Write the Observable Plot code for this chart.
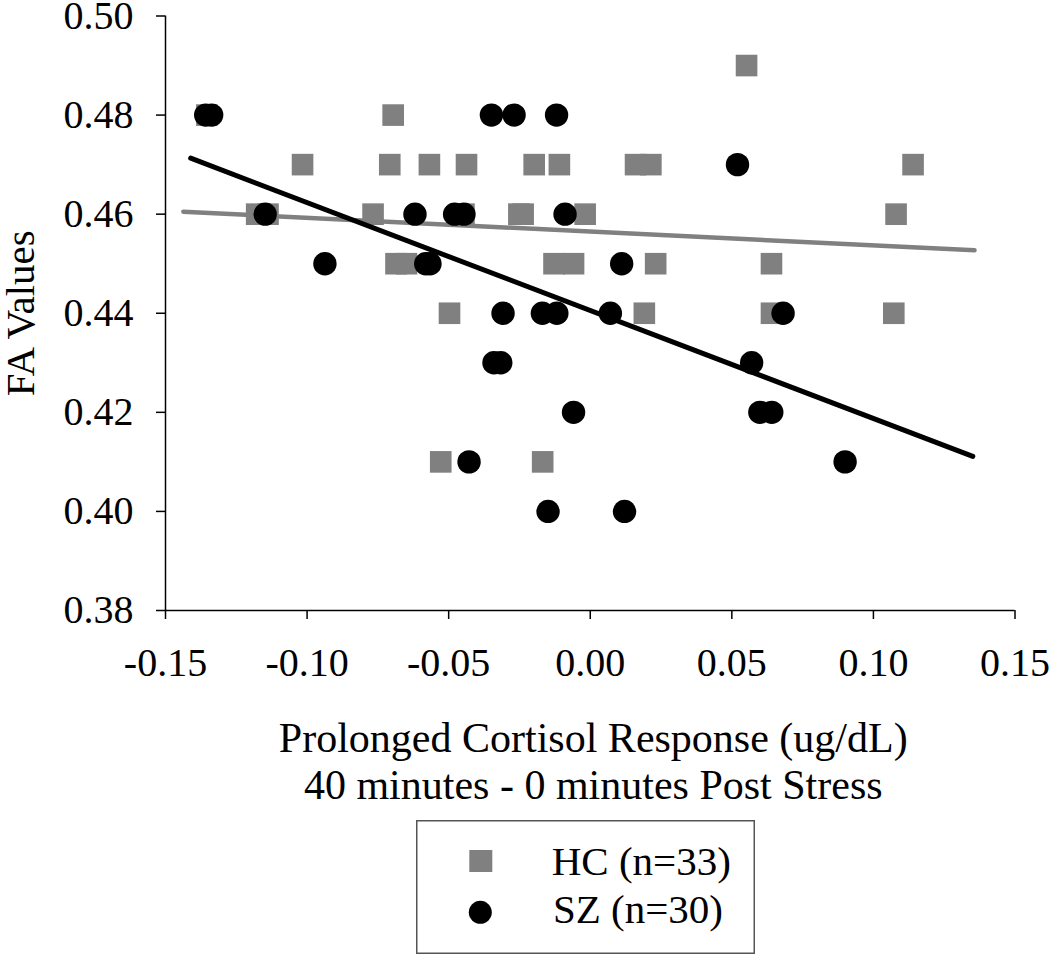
<!DOCTYPE html>
<html>
<head>
<meta charset="utf-8">
<script src="https://cdn.jsdelivr.net/npm/d3@7"></script>
<script src="https://cdn.jsdelivr.net/npm/@observablehq/plot@0.6"></script>
<style>
  html, body { margin: 0; padding: 0; background: white; }
  #legend { margin-left: 416px; width: 339px; height: 134px; }
</style>
</head>
<body>
<div id="chart"></div>
<div id="legend"></div>
<script>
// HC (healthy controls) – grey squares
const hcX = [-0.1354, -0.0696, 0.0552, -0.1016, -0.0708, -0.0568, -0.0437, -0.0198, -0.0109, 0.0160, 0.0214, 0.1140,
             -0.1178, -0.1138, -0.0767, -0.0446, -0.0252, -0.0237, -0.0018, 0.1080,
             -0.0686, -0.0649, -0.0128, -0.0059, 0.0231, 0.0640,
             -0.0497, 0.0191, 0.0640, 0.1072,
             -0.0528, -0.0168];
const hcY = [0.48, 0.48, 0.49, 0.47, 0.47, 0.47, 0.47, 0.47, 0.47, 0.47, 0.47, 0.47,
             0.46, 0.46, 0.46, 0.46, 0.46, 0.46, 0.46, 0.46,
             0.45, 0.45, 0.45, 0.45, 0.45, 0.45,
             0.44, 0.44, 0.44, 0.44,
             0.41, 0.41];
// SZ (schizophrenia) – black circles
const szX = [-0.1358, -0.1337, -0.0349, -0.0269, -0.0119, 0.0520,
             -0.1148, -0.0619, -0.0479, -0.0446, -0.0089,
             -0.0937, -0.0581, -0.0566, 0.0111,
             -0.0308, -0.0169, -0.0118, 0.0071, 0.0681,
             -0.0340, -0.0316, 0.0570,
             -0.0059, 0.0599, 0.0641,
             -0.0428, 0.0900,
             -0.0149, 0.0121];
const szY = [0.48, 0.48, 0.48, 0.48, 0.48, 0.47,
             0.46, 0.46, 0.46, 0.46, 0.46,
             0.45, 0.45, 0.45, 0.45,
             0.44, 0.44, 0.44, 0.44, 0.44,
             0.43, 0.43, 0.43,
             0.42, 0.42, 0.42,
             0.41, 0.41,
             0.40, 0.40];
// trend lines (endpoints)
const hcTrendX = [-0.1437, 0.1357];
const hcTrendY = [0.4605, 0.4527];
const szTrendX = [-0.1411, 0.1351];
const szTrendY = [0.4713, 0.4111];

const xTicks = [-0.15, -0.10, -0.05, 0, 0.05, 0.10, 0.15];
const yTicks = [0.38, 0.40, 0.42, 0.44, 0.46, 0.48, 0.50];
const xLabel = "Prolonged Cortisol Response (ug/dL)\n40 minutes - 0 minutes Post Stress";
const yLabel = "FA Values";
const legendLabels = ["HC (n=33)", "SZ (n=30)"];

const hc = hcX.map((x, i) => ({x, y: hcY[i]}));
const sz = szX.map((x, i) => ({x, y: szY[i]}));
const hcTrend = hcTrendX.map((x, i) => ({x, y: hcTrendY[i]}));
const szTrend = szTrendX.map((x, i) => ({x, y: szTrendY[i]}));

const grey = "#808080";
const font = "'Liberation Serif', 'Times New Roman', serif";

const chart = Plot.plot({
  width: 1050,
  height: 820,
  marginLeft: 165,
  marginRight: 35.5,
  marginTop: 15.5,
  marginBottom: 210,
  style: {fontFamily: font, background: "white", display: "block", color: "black"},
  x: {domain: [-0.15, 0.15]},
  y: {domain: [0.38, 0.50]},
  marks: [
    Plot.dot(hc, {x: "x", y: "y", symbol: "square", r: 12.2, fill: grey}),
    Plot.line(hcTrend, {x: "x", y: "y", stroke: grey, strokeWidth: 4.5, strokeLinecap: "round"}),
    Plot.line(szTrend, {x: "x", y: "y", stroke: "black", strokeWidth: 5, strokeLinecap: "round"}),
    Plot.dot(sz, {x: "x", y: "y", r: 11.7, fill: "black"}),
    Plot.ruleX([-0.15], {stroke: "black", strokeWidth: 1.5}),
    Plot.ruleY([0.38], {stroke: "black", strokeWidth: 1.5}),
    Plot.axisX({ticks: xTicks, tickFormat: d => d.toFixed(2), tickSize: 9, tickPadding: 28,
                fontSize: 40, label: null, strokeWidth: 1.5}),
    Plot.axisY({ticks: yTicks, tickFormat: d => d.toFixed(2), tickSize: 9, tickPadding: 23,
                fontSize: 40, label: null, strokeWidth: 1.5}),
    Plot.text([yLabel], {text: d => d, frameAnchor: "left", dx: -145, rotate: -90,
                         fontSize: 41, textAnchor: "middle", lineAnchor: "middle"}),
    Plot.text([xLabel], {text: d => d, frameAnchor: "bottom", dy: 108, dx: 3, lineAnchor: "top",
                         textAnchor: "middle", fontSize: 42, lineHeight: 1.12})
  ]
});
document.getElementById("chart").appendChild(chart);

// legend below the plot
const lg = d3.select("#legend").append("svg")
  .attr("width", 339).attr("height", 134)
  .style("display", "block")
  .style("font-family", font);
lg.append("rect").attr("x", 0.75).attr("y", 0.75).attr("width", 337.5).attr("height", 132.5)
  .attr("fill", "white").attr("stroke", "#555").attr("stroke-width", 1.5);
lg.append("rect").attr("x", 53.3).attr("y", 30).attr("width", 23).attr("height", 22).attr("fill", grey);
lg.append("circle").attr("cx", 64.3).attr("cy", 92.3).attr("r", 11.5).attr("fill", "black");
lg.append("text").attr("x", 135.7).attr("y", 55).attr("font-size", 41).text(legendLabels[0]);
lg.append("text").attr("x", 137).attr("y", 103.3).attr("font-size", 41).text(legendLabels[1]);
</script>
</body>
</html>
